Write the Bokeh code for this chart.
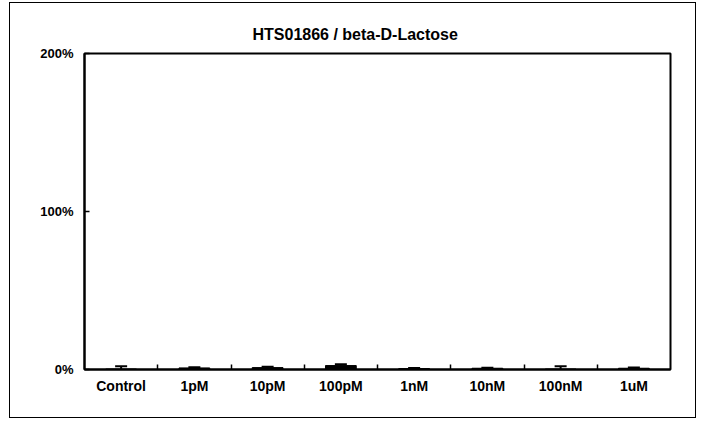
import numpy as np
from bokeh.plotting import figure
from bokeh.models import Range1d, FixedTicker, Whisker, ColumnDataSource
from bokeh.embed import file_html
from bokeh.resources import INLINE

title = "HTS01866 / beta-D-Lactose"
categories = ["Control", "1pM", "10pM", "100pM", "1nM", "10nM", "100nM", "1uM"]
values = [0.3, 1.0, 1.2, 2.5, 0.6, 0.8, 0.3, 0.8]
errors = [1.8, 0.4, 0.5, 0.8, 0.4, 0.3, 1.8, 0.4]
y_ticks = [0, 100, 200]
y_tick_labels = ["0%", "100%", "200%"]

xs = np.arange(len(categories)) + 0.5
vals = np.array(values)
errs = np.array(errors)
src = ColumnDataSource(dict(x=xs, top=vals, upper=vals + errs, lower=vals))

W, H = 687, 416
p = figure(width=W, height=H, output_backend="svg", toolbar_location=None,
           x_range=Range1d(0, len(categories)), y_range=Range1d(0, 200),
           min_border_left=74, min_border_right=27, min_border_top=50, min_border_bottom=50,
           styles={"border": "1.5px solid black", "margin": "2px 0 0 9px"})
p.outline_line_color = "black"
p.outline_line_width = 2
p.grid.visible = False
p.background_fill_color = "white"
p.border_fill_color = "white"

p.vbar(x="x", top="top", bottom=0, width=0.42, source=src, fill_color="black", line_color="black")
w = Whisker(base="x", upper="upper", lower="lower", source=src, line_color="black", line_width=2)
w.upper_head.size = 12
w.upper_head.line_width = 2
w.lower_head.size = 0
p.add_layout(w)

# x axis
p.xaxis.ticker = FixedTicker(ticks=list(xs), minor_ticks=list(np.arange(1, len(categories))))
p.xaxis.major_label_overrides = {float(x): c for x, c in zip(xs, categories)}
p.xaxis.major_tick_in = 0
p.xaxis.major_tick_out = 0
p.xaxis.minor_tick_in = 5
p.xaxis.minor_tick_out = 0
p.xaxis.axis_line_width = 2
p.xaxis.axis_line_color = "black"
p.xaxis.minor_tick_line_color = "black"
p.xaxis.minor_tick_line_width = 1.5
p.xaxis.major_label_standoff = 8
p.xaxis.major_label_text_font = "Liberation Sans"
p.xaxis.major_label_text_font_style = "bold"
p.xaxis.major_label_text_font_size = "14px"
p.xaxis.major_label_text_color = "black"

# y axis
p.yaxis.ticker = FixedTicker(ticks=y_ticks, minor_ticks=[])
p.yaxis.major_label_overrides = {t: l for t, l in zip(y_ticks, y_tick_labels)}
p.yaxis.major_tick_in = 5
p.yaxis.major_tick_out = 0
p.yaxis.major_tick_line_width = 1.5
p.yaxis.major_tick_line_color = "black"
p.yaxis.axis_line_width = 2
p.yaxis.axis_line_color = "black"
p.yaxis.major_label_standoff = 11
p.yaxis.major_label_text_font = "Liberation Sans"
p.yaxis.major_label_text_font_style = "bold"
p.yaxis.major_label_text_font_size = "13px"
p.yaxis.major_label_text_color = "black"

p.title.text = title
p.title.align = "left"
p.title.offset = 168
p.title.text_font = "Liberation Sans"
p.title.text_font_style = "bold"
p.title.text_font_size = "16px"
p.title.text_color = "black"
p.title.standoff = 21

open("out.html", "w").write(file_html(p, INLINE))
